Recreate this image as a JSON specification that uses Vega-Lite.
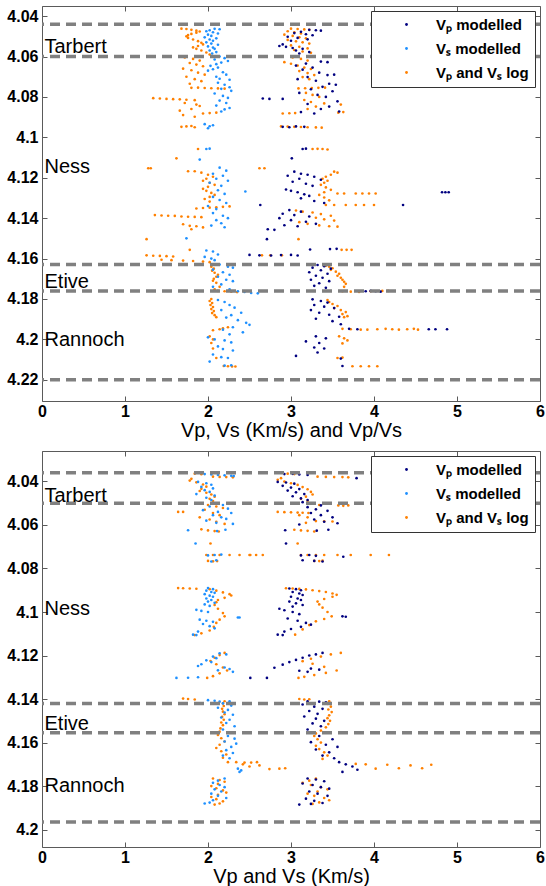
{
  "$schema": "https://vega.github.io/schema/vega-lite/v6.json",
  "background": "white",
  "padding": {"left": 6, "top": 5, "right": 0, "bottom": 0},
  "config": {
    "font": "Liberation Sans",
    "view": {"stroke": "#5a5a5a", "strokeWidth": 1},
    "axis": {"grid": false, "domain": false, "tickSize": -5, "tickColor": "#5a5a5a", "labelFont": "Liberation Sans", "labelFontSize": 16, "labelFontWeight": "bold", "labelColor": "black", "labelFlush": false, "labelOverlap": false, "titleFont": "Liberation Sans", "titleFontSize": 20, "titleFontWeight": "normal", "titleColor": "black"},
    "axisX": {"labelPadding": 7, "titlePadding": 1},
    "axisY": {"labelPadding": 9},
    "legend": {"orient": "top-right", "offset": 5, "title": null, "strokeColor": "#333333", "fillColor": "white", "padding": 6, "symbolType": "circle", "symbolSize": 8, "symbolOffset": 22, "labelOffset": 22, "labelFont": "Liberation Sans", "labelFontSize": 15, "labelFontWeight": "bold", "labelColor": "black", "rowPadding": 8}
  },
  "datasets": {
    "topLines": [{"d": 4.044}, {"d": 4.060}, {"d": 4.163}, {"d": 4.176}, {"d": 4.220}],
    "bottomLines": [{"d": 4.036}, {"d": 4.050}, {"d": 4.142}, {"d": 4.1555}, {"d": 4.1965}],
    "topNames": [{"name": "Tarbert", "d": 4.0555}, {"name": "Ness", "d": 4.1145}, {"name": "Etive", "d": 4.1718}, {"name": "Rannoch", "d": 4.2003}],
    "bottomNames": [{"name": "Tarbert", "d": 4.0466}, {"name": "Ness", "d": 4.0984}, {"name": "Etive", "d": 4.1514}, {"name": "Rannoch", "d": 4.1799}],
    "top": [
      {"s":"s","v":2.08,"d":4.0463},{"s":"s","v":2.14,"d":4.0465},{"s":"s","v":2.02,"d":4.047},{"s":"s","v":1.98,"d":4.0475},{"s":"s","v":2.06,"d":4.048},{"s":"s","v":2.12,"d":4.0486},{"s":"s","v":2.0,"d":4.0492},{"s":"s","v":2.04,"d":4.0498},{"s":"s","v":1.96,"d":4.0505},{"s":"s","v":2.1,"d":4.051},{"s":"s","v":2.02,"d":4.0516},{"s":"s","v":2.06,"d":4.0522},{"s":"s","v":1.98,"d":4.053},{"s":"s","v":2.04,"d":4.0536},{"s":"s","v":2.12,"d":4.0542},{"s":"s","v":2.0,"d":4.055},{"s":"s","v":2.06,"d":4.0556},{"s":"s","v":2.08,"d":4.0562},{"s":"s","v":2.02,"d":4.057},{"s":"s","v":2.1,"d":4.0578},{"s":"s","v":2.05,"d":4.0585},
      {"s":"s","v":2.14,"d":4.06},{"s":"s","v":2.2,"d":4.0608},{"s":"s","v":2.08,"d":4.0615},{"s":"s","v":2.24,"d":4.0622},{"s":"s","v":2.16,"d":4.063},{"s":"s","v":2.1,"d":4.0638},{"s":"s","v":2.03,"d":4.0646},{"s":"s","v":2.12,"d":4.0655},{"s":"s","v":2.06,"d":4.0663},{"s":"s","v":2.0,"d":4.067},{"s":"s","v":2.18,"d":4.0678},{"s":"s","v":2.22,"d":4.069},{"s":"s","v":2.1,"d":4.07},{"s":"s","v":2.14,"d":4.071},{"s":"s","v":2.26,"d":4.0715},
      {"s":"s","v":2.12,"d":4.073},{"s":"s","v":2.2,"d":4.074},{"s":"s","v":2.26,"d":4.0752},{"s":"s","v":2.16,"d":4.076},{"s":"s","v":2.28,"d":4.077},{"s":"s","v":2.08,"d":4.0783},{"s":"s","v":2.18,"d":4.0795},{"s":"s","v":2.24,"d":4.0805},{"s":"s","v":2.14,"d":4.0818},{"s":"s","v":2.22,"d":4.083},{"s":"s","v":2.1,"d":4.0843},{"s":"s","v":2.26,"d":4.0855},{"s":"s","v":2.2,"d":4.0862},{"s":"s","v":2.16,"d":4.0872},
      {"s":"s","v":1.96,"d":4.0935},{"s":"s","v":2.02,"d":4.0945},{"s":"s","v":2.06,"d":4.094},{"s":"s","v":2.0,"d":4.0955},{"s":"s","v":1.98,"d":4.1058},{"s":"s","v":2.02,"d":4.1056},{"s":"s","v":1.9,"d":4.111},
      {"s":"s","v":2.14,"d":4.115},{"s":"s","v":2.22,"d":4.1165},{"s":"s","v":2.06,"d":4.118},{"s":"s","v":2.18,"d":4.119},{"s":"s","v":2.1,"d":4.1205},{"s":"s","v":2.24,"d":4.1215},{"s":"s","v":2.02,"d":4.1225},{"s":"s","v":2.16,"d":4.124},{"s":"s","v":2.45,"d":4.1268},{"s":"s","v":2.12,"d":4.1262},{"s":"s","v":2.2,"d":4.128},{"s":"s","v":2.06,"d":4.1295},{"s":"s","v":2.14,"d":4.131},{"s":"s","v":2.22,"d":4.1325},
      {"s":"s","v":2.0,"d":4.134},{"s":"s","v":2.1,"d":4.1355},{"s":"s","v":2.06,"d":4.1375},{"s":"s","v":2.18,"d":4.1388},{"s":"s","v":2.24,"d":4.14},{"s":"s","v":2.1,"d":4.141},{"s":"s","v":2.16,"d":4.1425},{"s":"s","v":2.04,"d":4.1437},{"s":"s","v":2.2,"d":4.1445},{"s":"s","v":1.74,"d":4.15},
      {"s":"s","v":1.98,"d":4.156},{"s":"s","v":2.06,"d":4.1565},{"s":"s","v":2.12,"d":4.158},{"s":"s","v":1.96,"d":4.1592},{"s":"s","v":2.04,"d":4.16},{"s":"s","v":2.08,"d":4.1608},
      {"s":"s","v":2.14,"d":4.163},{"s":"s","v":2.24,"d":4.164},{"s":"s","v":2.3,"d":4.1645},{"s":"s","v":2.06,"d":4.1655},{"s":"s","v":2.18,"d":4.1668},{"s":"s","v":2.26,"d":4.168},{"s":"s","v":2.12,"d":4.169},{"s":"s","v":2.22,"d":4.1705},{"s":"s","v":2.3,"d":4.1712},{"s":"s","v":2.16,"d":4.1728},{"s":"s","v":2.06,"d":4.174},{"s":"s","v":2.26,"d":4.1752},
      {"s":"s","v":2.36,"d":4.1762},{"s":"s","v":2.44,"d":4.1765},{"s":"s","v":2.52,"d":4.177},{"s":"s","v":2.6,"d":4.1772},
      {"s":"s","v":2.12,"d":4.1805},{"s":"s","v":2.2,"d":4.1815},{"s":"s","v":2.26,"d":4.183},{"s":"s","v":2.32,"d":4.1843},{"s":"s","v":2.16,"d":4.1855},{"s":"s","v":2.4,"d":4.1868},{"s":"s","v":2.28,"d":4.188},{"s":"s","v":2.22,"d":4.1892},{"s":"s","v":2.36,"d":4.1905},{"s":"s","v":2.46,"d":4.1918},{"s":"s","v":2.5,"d":4.1928},{"s":"s","v":2.3,"d":4.194},{"s":"s","v":2.18,"d":4.1952},{"s":"s","v":2.42,"d":4.1965},{"s":"s","v":2.26,"d":4.1975},
      {"s":"s","v":2.0,"d":4.199},{"s":"s","v":2.08,"d":4.2},{"s":"s","v":2.2,"d":4.2005},{"s":"s","v":2.28,"d":4.2015},{"s":"s","v":2.12,"d":4.2035},{"s":"s","v":2.18,"d":4.2048},{"s":"s","v":2.3,"d":4.2055},{"s":"s","v":2.06,"d":4.2075},{"s":"s","v":2.16,"d":4.2088},{"s":"s","v":2.24,"d":4.2092},{"s":"s","v":2.02,"d":4.211},{"s":"s","v":2.2,"d":4.213},{"s":"s","v":2.28,"d":4.2128},

      {"s":"l","v":1.68,"d":4.0462},{"s":"l","v":1.74,"d":4.0464},{"s":"l","v":1.8,"d":4.0468},{"s":"l","v":1.86,"d":4.0472},{"s":"l","v":1.9,"d":4.0476},{"s":"l","v":1.86,"d":4.0482},{"s":"l","v":1.8,"d":4.0488},{"s":"l","v":1.76,"d":4.0494},{"s":"l","v":1.74,"d":4.05},{"s":"l","v":1.76,"d":4.0508},{"s":"l","v":1.82,"d":4.0516},{"s":"l","v":1.88,"d":4.0524},{"s":"l","v":1.92,"d":4.0532},{"s":"l","v":1.94,"d":4.054},{"s":"l","v":1.88,"d":4.0548},{"s":"l","v":1.82,"d":4.0555},{"s":"l","v":1.86,"d":4.0562},{"s":"l","v":1.92,"d":4.057},{"s":"l","v":1.98,"d":4.058},{"s":"l","v":2.02,"d":4.059},
      {"s":"l","v":1.72,"d":4.0605},{"s":"l","v":1.82,"d":4.0612},{"s":"l","v":1.9,"d":4.062},{"s":"l","v":1.78,"d":4.0632},{"s":"l","v":1.86,"d":4.064},{"s":"l","v":1.94,"d":4.0648},{"s":"l","v":1.7,"d":4.066},{"s":"l","v":1.8,"d":4.0668},{"s":"l","v":1.88,"d":4.068},{"s":"l","v":1.96,"d":4.069},{"s":"l","v":1.74,"d":4.07},{"s":"l","v":1.84,"d":4.0712},{"s":"l","v":1.92,"d":4.0722},{"s":"l","v":1.78,"d":4.0735},{"s":"l","v":1.8,"d":4.0755},{"s":"l","v":1.88,"d":4.0754},{"s":"l","v":1.96,"d":4.0756},{"s":"l","v":2.04,"d":4.0757},{"s":"l","v":2.12,"d":4.0758},{"s":"l","v":2.2,"d":4.0759},
      {"s":"l","v":1.34,"d":4.0806},{"s":"l","v":1.42,"d":4.0808},{"s":"l","v":1.5,"d":4.081},{"s":"l","v":1.58,"d":4.0811},{"s":"l","v":1.66,"d":4.0812},{"s":"l","v":1.74,"d":4.0814},{"s":"l","v":1.84,"d":4.0816},{"s":"l","v":1.72,"d":4.083},{"s":"l","v":1.86,"d":4.0838},{"s":"l","v":1.9,"d":4.0845},{"s":"l","v":1.8,"d":4.086},{"s":"l","v":1.66,"d":4.0868},{"s":"l","v":1.94,"d":4.0882},{"s":"l","v":2.02,"d":4.088},{"s":"l","v":2.1,"d":4.0878},{"s":"l","v":1.7,"d":4.089},{"s":"l","v":1.84,"d":4.0898},{"s":"l","v":1.68,"d":4.0948},{"s":"l","v":1.74,"d":4.0946},{"s":"l","v":1.8,"d":4.0944},{"s":"l","v":1.84,"d":4.095},
      {"s":"l","v":1.88,"d":4.1058},{"s":"l","v":1.62,"d":4.1104},{"s":"l","v":1.28,"d":4.1153},{"s":"l","v":1.31,"d":4.1153},{"s":"l","v":1.76,"d":4.1168},{"s":"l","v":1.84,"d":4.1168},
      {"s":"l","v":1.92,"d":4.1175},{"s":"l","v":2.0,"d":4.1185},{"s":"l","v":2.06,"d":4.1195},{"s":"l","v":1.98,"d":4.1205},{"s":"l","v":1.94,"d":4.1215},{"s":"l","v":2.02,"d":4.1225},{"s":"l","v":2.08,"d":4.1235},{"s":"l","v":2.0,"d":4.1245},{"s":"l","v":1.94,"d":4.1255},{"s":"l","v":1.98,"d":4.1265},{"s":"l","v":2.04,"d":4.1275},{"s":"l","v":2.08,"d":4.1285},{"s":"l","v":2.02,"d":4.1295},{"s":"l","v":1.96,"d":4.1305},{"s":"l","v":2.02,"d":4.1318},
      {"s":"l","v":1.86,"d":4.1352},{"s":"l","v":1.94,"d":4.135},{"s":"l","v":2.02,"d":4.1348},{"s":"l","v":2.1,"d":4.1346},{"s":"l","v":2.18,"d":4.1344},{"s":"l","v":2.26,"d":4.1342},
      {"s":"l","v":1.36,"d":4.1385},{"s":"l","v":1.44,"d":4.1387},{"s":"l","v":1.52,"d":4.1388},{"s":"l","v":1.6,"d":4.1389},{"s":"l","v":1.68,"d":4.1392},{"s":"l","v":1.76,"d":4.1393},{"s":"l","v":1.84,"d":4.1394},{"s":"l","v":1.92,"d":4.1395},
      {"s":"l","v":1.7,"d":4.143},{"s":"l","v":1.78,"d":4.1438},{"s":"l","v":1.86,"d":4.144},{"s":"l","v":1.94,"d":4.1446},{"s":"l","v":1.8,"d":4.1455},{"s":"l","v":1.26,"d":4.1504},{"s":"l","v":1.78,"d":4.1557},
      {"s":"l","v":1.26,"d":4.1584},{"s":"l","v":1.34,"d":4.1586},{"s":"l","v":1.42,"d":4.1587},{"s":"l","v":1.5,"d":4.1588},{"s":"l","v":1.58,"d":4.159},
      {"s":"l","v":1.44,"d":4.1606},{"s":"l","v":1.56,"d":4.1608},{"s":"l","v":1.7,"d":4.161},{"s":"l","v":1.82,"d":4.1612},{"s":"l","v":1.94,"d":4.1615},{"s":"l","v":2.02,"d":4.1618},
      {"s":"l","v":2.06,"d":4.163},{"s":"l","v":2.04,"d":4.164},{"s":"l","v":2.07,"d":4.165},{"s":"l","v":2.05,"d":4.166},{"s":"l","v":2.08,"d":4.167},{"s":"l","v":2.12,"d":4.168},{"s":"l","v":2.1,"d":4.169},{"s":"l","v":2.07,"d":4.17},{"s":"l","v":2.06,"d":4.171},{"s":"l","v":2.1,"d":4.172},{"s":"l","v":2.14,"d":4.174},{"s":"l","v":2.08,"d":4.1752},
      {"s":"l","v":2.12,"d":4.176},{"s":"l","v":2.2,"d":4.1762},{"s":"l","v":2.28,"d":4.1764},{"s":"l","v":2.35,"d":4.1766},
      {"s":"l","v":2.04,"d":4.18},{"s":"l","v":2.02,"d":4.181},{"s":"l","v":2.05,"d":4.182},{"s":"l","v":2.03,"d":4.183},{"s":"l","v":2.06,"d":4.184},{"s":"l","v":2.04,"d":4.185},{"s":"l","v":2.07,"d":4.186},{"s":"l","v":2.05,"d":4.187},{"s":"l","v":2.08,"d":4.188},{"s":"l","v":2.1,"d":4.189},{"s":"l","v":2.18,"d":4.1945},{"s":"l","v":2.24,"d":4.194},{"s":"l","v":2.14,"d":4.195},{"s":"l","v":2.06,"d":4.1955},
      {"s":"l","v":2.02,"d":4.1985},{"s":"l","v":2.06,"d":4.2},{"s":"l","v":2.04,"d":4.2018},{"s":"l","v":2.06,"d":4.2045},{"s":"l","v":2.1,"d":4.2092},{"s":"l","v":2.19,"d":4.2132},{"s":"l","v":2.24,"d":4.2133},{"s":"l","v":2.29,"d":4.2134},{"s":"l","v":2.33,"d":4.2134},

      {"s":"p","v":3.22,"d":4.0468},{"s":"p","v":3.3,"d":4.047},{"s":"p","v":3.36,"d":4.0472},{"s":"p","v":3.12,"d":4.0478},{"s":"p","v":3.04,"d":4.0484},{"s":"p","v":3.18,"d":4.049},{"s":"p","v":3.26,"d":4.0495},{"s":"p","v":2.96,"d":4.0502},{"s":"p","v":3.08,"d":4.0508},{"s":"p","v":3.2,"d":4.0515},{"s":"p","v":3.0,"d":4.0522},{"s":"p","v":2.9,"d":4.054},{"s":"p","v":2.86,"d":4.0548},{"s":"p","v":2.94,"d":4.0552},{"s":"p","v":3.02,"d":4.0558},{"s":"p","v":3.14,"d":4.0562},{"s":"p","v":3.06,"d":4.057},{"s":"p","v":3.22,"d":4.0578},{"s":"p","v":3.1,"d":4.0585},
      {"s":"p","v":3.36,"d":4.0625},{"s":"p","v":3.44,"d":4.0628},{"s":"p","v":3.18,"d":4.0635},{"s":"p","v":3.06,"d":4.0645},{"s":"p","v":3.26,"d":4.0655},{"s":"p","v":3.14,"d":4.0665},{"s":"p","v":3.34,"d":4.068},{"s":"p","v":3.44,"d":4.0692},{"s":"p","v":3.52,"d":4.069},{"s":"p","v":3.2,"d":4.0702},{"s":"p","v":3.08,"d":4.0712},{"s":"p","v":3.3,"d":4.072},
      {"s":"p","v":3.46,"d":4.0735},{"s":"p","v":3.54,"d":4.074},{"s":"p","v":3.38,"d":4.075},{"s":"p","v":3.24,"d":4.0762},{"s":"p","v":3.5,"d":4.0772},{"s":"p","v":3.1,"d":4.078},{"s":"p","v":3.32,"d":4.079},{"s":"p","v":3.42,"d":4.08},{"s":"p","v":2.66,"d":4.0808},{"s":"p","v":2.74,"d":4.081},{"s":"p","v":2.9,"d":4.081},{"s":"p","v":3.56,"d":4.0822},{"s":"p","v":3.2,"d":4.0835},{"s":"p","v":3.46,"d":4.0848},{"s":"p","v":3.36,"d":4.086},{"s":"p","v":3.58,"d":4.0872},{"s":"p","v":3.12,"d":4.0875},{"s":"p","v":3.28,"d":4.0882},
      {"s":"p","v":2.9,"d":4.0948},{"s":"p","v":2.98,"d":4.095},{"s":"p","v":3.06,"d":4.0946},{"s":"p","v":3.16,"d":4.0948},{"s":"p","v":3.14,"d":4.1058},{"s":"p","v":3.18,"d":4.1056},{"s":"p","v":3.01,"d":4.1104},
      {"s":"p","v":3.04,"d":4.117},{"s":"p","v":3.12,"d":4.118},{"s":"p","v":3.2,"d":4.1185},{"s":"p","v":2.96,"d":4.119},{"s":"p","v":3.28,"d":4.1195},{"s":"p","v":3.1,"d":4.1205},{"s":"p","v":3.36,"d":4.121},{"s":"p","v":3.02,"d":4.122},{"s":"p","v":3.18,"d":4.123},{"s":"p","v":3.26,"d":4.124},{"s":"p","v":2.94,"d":4.1258},{"s":"p","v":3.0,"d":4.1265},{"s":"p","v":3.08,"d":4.1272},{"s":"p","v":4.82,"d":4.1272},{"s":"p","v":4.86,"d":4.1272},{"s":"p","v":4.9,"d":4.1272},{"s":"p","v":3.16,"d":4.1282},{"s":"p","v":3.22,"d":4.129},{"s":"p","v":3.12,"d":4.1302},{"s":"p","v":3.28,"d":4.1315},{"s":"p","v":3.4,"d":4.1325},{"s":"p","v":2.63,"d":4.1335},{"s":"p","v":4.35,"d":4.1335},
      {"s":"p","v":2.98,"d":4.136},{"s":"p","v":3.12,"d":4.1368},{"s":"p","v":2.9,"d":4.1378},{"s":"p","v":3.04,"d":4.1385},{"s":"p","v":3.22,"d":4.1392},{"s":"p","v":2.86,"d":4.14},{"s":"p","v":3.0,"d":4.141},{"s":"p","v":3.18,"d":4.1418},{"s":"p","v":3.3,"d":4.1428},{"s":"p","v":2.92,"d":4.1435},{"s":"p","v":3.08,"d":4.144},{"s":"p","v":2.72,"d":4.1455},{"s":"p","v":2.8,"d":4.1458},{"s":"p","v":2.71,"d":4.1504},
      {"s":"p","v":3.23,"d":4.1555},{"s":"p","v":3.47,"d":4.1553},{"s":"p","v":3.55,"d":4.1552},{"s":"p","v":2.5,"d":4.1582},{"s":"p","v":2.62,"d":4.1584},{"s":"p","v":2.76,"d":4.1585},{"s":"p","v":2.88,"d":4.1583},{"s":"p","v":3.0,"d":4.1582},{"s":"p","v":3.08,"d":4.1585},
      {"s":"p","v":3.32,"d":4.1632},{"s":"p","v":3.4,"d":4.1638},{"s":"p","v":3.26,"d":4.1645},{"s":"p","v":3.48,"d":4.165},{"s":"p","v":3.36,"d":4.1658},{"s":"p","v":3.22,"d":4.1668},{"s":"p","v":3.44,"d":4.1675},{"s":"p","v":3.3,"d":4.1685},{"s":"p","v":3.38,"d":4.1695},{"s":"p","v":3.24,"d":4.1705},{"s":"p","v":3.46,"d":4.1712},{"s":"p","v":3.34,"d":4.1722},{"s":"p","v":3.28,"d":4.1735},{"s":"p","v":3.42,"d":4.1745},
      {"s":"p","v":3.9,"d":4.1762},{"s":"p","v":3.96,"d":4.176},{"s":"p","v":4.02,"d":4.1762},{"s":"p","v":4.08,"d":4.1764},
      {"s":"p","v":3.26,"d":4.1802},{"s":"p","v":3.36,"d":4.181},{"s":"p","v":3.44,"d":4.1818},{"s":"p","v":3.28,"d":4.183},{"s":"p","v":3.4,"d":4.1838},{"s":"p","v":3.52,"d":4.1845},{"s":"p","v":3.24,"d":4.1855},{"s":"p","v":3.34,"d":4.1868},{"s":"p","v":3.46,"d":4.1878},{"s":"p","v":3.58,"d":4.1888},{"s":"p","v":3.3,"d":4.1898},{"s":"p","v":3.5,"d":4.191},{"s":"p","v":3.6,"d":4.1925},{"s":"p","v":3.7,"d":4.1948},{"s":"p","v":3.8,"d":4.195},{"s":"p","v":4.66,"d":4.195},{"s":"p","v":4.74,"d":4.195},{"s":"p","v":4.88,"d":4.195},
      {"s":"p","v":3.3,"d":4.1985},{"s":"p","v":3.42,"d":4.1995},{"s":"p","v":3.18,"d":4.201},{"s":"p","v":3.34,"d":4.2018},{"s":"p","v":3.28,"d":4.204},{"s":"p","v":3.4,"d":4.2045},{"s":"p","v":3.32,"d":4.2065},{"s":"p","v":3.06,"d":4.2082},{"s":"p","v":3.6,"d":4.2095},{"s":"p","v":3.62,"d":4.2132},

      {"s":"l","v":3.0,"d":4.0462},{"s":"l","v":3.08,"d":4.0464},{"s":"l","v":3.16,"d":4.0466},{"s":"l","v":3.22,"d":4.0468},{"s":"l","v":2.96,"d":4.0475},{"s":"l","v":3.04,"d":4.048},{"s":"l","v":3.12,"d":4.0486},{"s":"l","v":2.92,"d":4.0492},{"s":"l","v":3.02,"d":4.0498},{"s":"l","v":3.1,"d":4.0505},{"s":"l","v":3.18,"d":4.051},{"s":"l","v":2.96,"d":4.0518},{"s":"l","v":3.06,"d":4.0525},{"s":"l","v":3.14,"d":4.053},{"s":"l","v":3.22,"d":4.0536},{"s":"l","v":3.0,"d":4.0545},{"s":"l","v":3.1,"d":4.0552},{"s":"l","v":3.2,"d":4.056},{"s":"l","v":3.04,"d":4.0568},{"s":"l","v":3.14,"d":4.0575},{"s":"l","v":3.24,"d":4.0582},
      {"s":"l","v":3.02,"d":4.0605},{"s":"l","v":3.12,"d":4.0612},{"s":"l","v":3.2,"d":4.062},{"s":"l","v":2.92,"d":4.0628},{"s":"l","v":3.0,"d":4.0636},{"s":"l","v":3.08,"d":4.0645},{"s":"l","v":3.16,"d":4.0655},{"s":"l","v":3.24,"d":4.0662},{"s":"l","v":3.1,"d":4.0672},{"s":"l","v":3.2,"d":4.0682},{"s":"l","v":3.28,"d":4.0692},{"s":"l","v":3.14,"d":4.0702},{"s":"l","v":3.22,"d":4.0712},
      {"s":"l","v":3.09,"d":4.0758},{"s":"l","v":3.17,"d":4.0757},{"s":"l","v":3.25,"d":4.0756},{"s":"l","v":3.33,"d":4.0755},{"s":"l","v":3.41,"d":4.0754},{"s":"l","v":3.18,"d":4.078},{"s":"l","v":3.26,"d":4.079},{"s":"l","v":3.34,"d":4.08},{"s":"l","v":3.16,"d":4.0815},{"s":"l","v":3.24,"d":4.0825},{"s":"l","v":3.4,"d":4.0832},{"s":"l","v":3.6,"d":4.0838},{"s":"l","v":3.3,"d":4.0848},{"s":"l","v":3.2,"d":4.086},
      {"s":"l","v":2.9,"d":4.0882},{"s":"l","v":2.98,"d":4.0881},{"s":"l","v":3.05,"d":4.088},{"s":"l","v":3.57,"d":4.0878},{"s":"l","v":3.63,"d":4.0875},{"s":"l","v":2.88,"d":4.0946},{"s":"l","v":2.96,"d":4.0947},{"s":"l","v":3.04,"d":4.0948},{"s":"l","v":3.12,"d":4.0949},{"s":"l","v":3.2,"d":4.095},{"s":"l","v":3.3,"d":4.0951},{"s":"l","v":3.37,"d":4.0952},
      {"s":"l","v":3.26,"d":4.1058},{"s":"l","v":3.32,"d":4.1057},{"s":"l","v":3.38,"d":4.1058},{"s":"l","v":3.44,"d":4.106},{"s":"l","v":2.62,"d":4.1153},{"s":"l","v":2.68,"d":4.1153},
      {"s":"l","v":3.52,"d":4.117},{"s":"l","v":3.56,"d":4.1175},{"s":"l","v":3.48,"d":4.1185},{"s":"l","v":3.42,"d":4.1195},{"s":"l","v":3.38,"d":4.1205},{"s":"l","v":3.44,"d":4.1215},{"s":"l","v":3.4,"d":4.1225},{"s":"l","v":3.36,"d":4.1235},{"s":"l","v":3.42,"d":4.1248},{"s":"l","v":3.48,"d":4.126},{"s":"l","v":3.4,"d":4.1272},{"s":"l","v":3.34,"d":4.1285},{"s":"l","v":3.4,"d":4.1298},{"s":"l","v":3.46,"d":4.1312},
      {"s":"l","v":3.56,"d":4.1278},{"s":"l","v":3.64,"d":4.1278},{"s":"l","v":3.78,"d":4.1278},{"s":"l","v":3.86,"d":4.1278},{"s":"l","v":3.94,"d":4.1278},{"s":"l","v":4.02,"d":4.1278},
      {"s":"l","v":3.42,"d":4.1335},{"s":"l","v":3.52,"d":4.1335},{"s":"l","v":3.66,"d":4.1335},{"s":"l","v":3.78,"d":4.1335},{"s":"l","v":3.88,"d":4.1335},{"s":"l","v":4.0,"d":4.1335},
      {"s":"l","v":3.06,"d":4.1362},{"s":"l","v":3.14,"d":4.1368},{"s":"l","v":3.26,"d":4.1372},{"s":"l","v":3.36,"d":4.138},{"s":"l","v":3.48,"d":4.1388},{"s":"l","v":3.3,"d":4.1398},{"s":"l","v":3.4,"d":4.1406},{"s":"l","v":3.52,"d":4.1412},{"s":"l","v":3.1,"d":4.142},{"s":"l","v":3.2,"d":4.1428},{"s":"l","v":3.34,"d":4.1436},{"s":"l","v":3.46,"d":4.144},{"s":"l","v":3.56,"d":4.1442},
      {"s":"l","v":3.09,"d":4.1504},{"s":"l","v":3.61,"d":4.1557},{"s":"l","v":3.67,"d":4.1557},{"s":"l","v":3.73,"d":4.1557},{"s":"l","v":2.65,"d":4.1584},{"s":"l","v":2.75,"d":4.1584},{"s":"l","v":2.89,"d":4.1584},
      {"s":"l","v":3.42,"d":4.1635},{"s":"l","v":3.46,"d":4.164},{"s":"l","v":3.5,"d":4.1648},{"s":"l","v":3.48,"d":4.1656},{"s":"l","v":3.54,"d":4.1665},{"s":"l","v":3.58,"d":4.1675},{"s":"l","v":3.56,"d":4.1685},{"s":"l","v":3.6,"d":4.1695},{"s":"l","v":3.62,"d":4.1705},{"s":"l","v":3.64,"d":4.1715},{"s":"l","v":3.66,"d":4.1725},{"s":"l","v":3.64,"d":4.174},
      {"s":"l","v":3.62,"d":4.1762},{"s":"l","v":3.72,"d":4.1764},{"s":"l","v":3.82,"d":4.1765},{"s":"l","v":3.96,"d":4.1762},{"s":"l","v":4.1,"d":4.176},{"s":"l","v":4.17,"d":4.176},
      {"s":"l","v":3.44,"d":4.1805},{"s":"l","v":3.46,"d":4.1815},{"s":"l","v":3.5,"d":4.1825},{"s":"l","v":3.56,"d":4.1835},{"s":"l","v":3.52,"d":4.1845},{"s":"l","v":3.6,"d":4.1855},{"s":"l","v":3.66,"d":4.1865},{"s":"l","v":3.62,"d":4.1875},{"s":"l","v":3.68,"d":4.1885},{"s":"l","v":3.64,"d":4.189},
      {"s":"l","v":3.62,"d":4.1948},{"s":"l","v":3.72,"d":4.195},{"s":"l","v":3.84,"d":4.1952},{"s":"l","v":3.92,"d":4.1952},{"s":"l","v":4.04,"d":4.195},{"s":"l","v":4.14,"d":4.1948},{"s":"l","v":4.22,"d":4.195},{"s":"l","v":4.3,"d":4.1952},{"s":"l","v":4.4,"d":4.195},{"s":"l","v":4.48,"d":4.1948},{"s":"l","v":4.53,"d":4.1952},
      {"s":"l","v":3.58,"d":4.1985},{"s":"l","v":3.64,"d":4.1995},{"s":"l","v":3.68,"d":4.2005},{"s":"l","v":3.62,"d":4.202},{"s":"l","v":3.56,"d":4.2092},{"s":"l","v":3.62,"d":4.209},{"s":"l","v":3.74,"d":4.2133},{"s":"l","v":3.84,"d":4.2133},{"s":"l","v":3.94,"d":4.2133},{"s":"l","v":4.04,"d":4.2133}
    ],
    "bottom": [
      {"s":"s","v":1.96,"d":4.0366},{"s":"s","v":2.04,"d":4.0368},{"s":"s","v":2.12,"d":4.037},{"s":"s","v":2.2,"d":4.0372},{"s":"s","v":2.28,"d":4.0374},{"s":"s","v":2.31,"d":4.0375},
      {"s":"s","v":1.88,"d":4.0402},{"s":"s","v":1.98,"d":4.0408},{"s":"s","v":2.04,"d":4.0415},{"s":"s","v":1.92,"d":4.0425},{"s":"s","v":2.06,"d":4.0432},{"s":"s","v":1.96,"d":4.044},{"s":"s","v":2.02,"d":4.0448},{"s":"s","v":1.86,"d":4.0458},{"s":"s","v":2.08,"d":4.0465},{"s":"s","v":1.98,"d":4.0475},{"s":"s","v":2.04,"d":4.0485},
      {"s":"s","v":2.1,"d":4.05},{"s":"s","v":2.18,"d":4.0508},{"s":"s","v":2.02,"d":4.0515},{"s":"s","v":2.24,"d":4.0525},{"s":"s","v":1.94,"d":4.0532},{"s":"s","v":2.12,"d":4.054},{"s":"s","v":2.28,"d":4.0545},{"s":"s","v":2.06,"d":4.0555},{"s":"s","v":2.16,"d":4.0565},{"s":"s","v":2.22,"d":4.0572},{"s":"s","v":1.98,"d":4.058},{"s":"s","v":2.1,"d":4.059},{"s":"s","v":2.3,"d":4.0595},
      {"s":"s","v":1.76,"d":4.0624},{"s":"s","v":2.11,"d":4.0628},{"s":"s","v":2.21,"d":4.0622},{"s":"s","v":1.85,"d":4.0685},{"s":"s","v":2.0,"d":4.074},{"s":"s","v":2.08,"d":4.0738},{"s":"s","v":2.16,"d":4.0736},{"s":"s","v":2.1,"d":4.0762},{"s":"s","v":2.04,"d":4.0768},
      {"s":"s","v":2.0,"d":4.089},{"s":"s","v":2.06,"d":4.0895},{"s":"s","v":1.98,"d":4.0902},{"s":"s","v":2.04,"d":4.0908},{"s":"s","v":2.08,"d":4.0912},{"s":"s","v":1.96,"d":4.0918},{"s":"s","v":2.02,"d":4.0925},{"s":"s","v":2.06,"d":4.093},{"s":"s","v":1.98,"d":4.0938},{"s":"s","v":2.04,"d":4.0945},{"s":"s","v":2.0,"d":4.0952},{"s":"s","v":2.08,"d":4.0958},{"s":"s","v":1.96,"d":4.0965},{"s":"s","v":2.02,"d":4.0972},
      {"s":"s","v":1.86,"d":4.099},{"s":"s","v":1.92,"d":4.0995},{"s":"s","v":2.0,"d":4.1},{"s":"s","v":2.36,"d":4.1025},{"s":"s","v":2.38,"d":4.1025},{"s":"s","v":1.9,"d":4.1035},{"s":"s","v":1.98,"d":4.104},{"s":"s","v":2.06,"d":4.1045},{"s":"s","v":1.94,"d":4.1055},{"s":"s","v":2.02,"d":4.1065},{"s":"s","v":2.08,"d":4.1075},{"s":"s","v":1.88,"d":4.109},{"s":"s","v":1.82,"d":4.1104},{"s":"s","v":1.86,"d":4.1106},
      {"s":"s","v":2.14,"d":4.119},{"s":"s","v":2.22,"d":4.1195},{"s":"s","v":2.06,"d":4.1205},{"s":"s","v":2.1,"d":4.1212},{"s":"s","v":1.98,"d":4.1222},{"s":"s","v":2.04,"d":4.123},{"s":"s","v":1.92,"d":4.124},{"s":"s","v":1.88,"d":4.1248},{"s":"s","v":2.2,"d":4.1255},{"s":"s","v":2.26,"d":4.1262},{"s":"s","v":2.12,"d":4.1268},{"s":"s","v":2.3,"d":4.1275},{"s":"s","v":1.62,"d":4.1303},{"s":"s","v":1.76,"d":4.1302},{"s":"s","v":1.88,"d":4.13},
      {"s":"s","v":2.0,"d":4.1405},{"s":"s","v":2.08,"d":4.1408},{"s":"s","v":2.14,"d":4.1412},{"s":"s","v":2.26,"d":4.141},{"s":"s","v":2.18,"d":4.142},{"s":"s","v":2.28,"d":4.143},{"s":"s","v":2.12,"d":4.144},{"s":"s","v":2.24,"d":4.145},{"s":"s","v":2.2,"d":4.1462},{"s":"s","v":2.3,"d":4.1472},{"s":"s","v":2.16,"d":4.1485},{"s":"s","v":2.26,"d":4.1495},{"s":"s","v":2.22,"d":4.151},{"s":"s","v":2.32,"d":4.1525},{"s":"s","v":2.18,"d":4.154},{"s":"s","v":2.28,"d":4.1555},
      {"s":"s","v":2.24,"d":4.157},{"s":"s","v":2.32,"d":4.1582},{"s":"s","v":2.2,"d":4.1595},{"s":"s","v":2.34,"d":4.1605},{"s":"s","v":2.28,"d":4.162},{"s":"s","v":2.22,"d":4.1635},{"s":"s","v":2.3,"d":4.1648},{"s":"s","v":2.18,"d":4.166},{"s":"s","v":2.26,"d":4.1672},{"s":"s","v":2.36,"d":4.172},{"s":"s","v":2.4,"d":4.1728},{"s":"s","v":2.38,"d":4.1735},
      {"s":"s","v":2.2,"d":4.1765},{"s":"s","v":2.12,"d":4.1775},{"s":"s","v":2.06,"d":4.1785},{"s":"s","v":2.14,"d":4.1795},{"s":"s","v":2.2,"d":4.1805},{"s":"s","v":2.08,"d":4.1815},{"s":"s","v":2.16,"d":4.1825},{"s":"s","v":2.04,"d":4.1835},{"s":"s","v":2.12,"d":4.1845},{"s":"s","v":2.22,"d":4.1855},{"s":"s","v":2.06,"d":4.1865},{"s":"s","v":1.96,"d":4.188},{"s":"s","v":2.02,"d":4.1876},

      {"s":"l","v":1.84,"d":4.0364},{"s":"l","v":1.92,"d":4.0367},{"s":"l","v":1.8,"d":4.0388},{"s":"l","v":1.78,"d":4.0396},{"s":"l","v":1.86,"d":4.0404},{"s":"l","v":1.94,"d":4.0414},{"s":"l","v":1.98,"d":4.0424},{"s":"l","v":1.92,"d":4.0434},{"s":"l","v":1.9,"d":4.0444},{"s":"l","v":1.98,"d":4.0452},{"s":"l","v":2.04,"d":4.046},{"s":"l","v":2.08,"d":4.047},{"s":"l","v":2.02,"d":4.048},{"s":"l","v":2.06,"d":4.049},
      {"s":"l","v":2.06,"d":4.0378},{"s":"l","v":2.14,"d":4.0379},{"s":"l","v":2.22,"d":4.038},{"s":"l","v":2.3,"d":4.0381},
      {"s":"l","v":1.92,"d":4.05},{"s":"l","v":2.0,"d":4.0508},{"s":"l","v":2.1,"d":4.0515},{"s":"l","v":2.18,"d":4.0522},{"s":"l","v":1.96,"d":4.053},{"s":"l","v":2.06,"d":4.0545},{"s":"l","v":2.14,"d":4.0555},{"s":"l","v":1.9,"d":4.0565},{"s":"l","v":2.02,"d":4.0575},{"s":"l","v":2.1,"d":4.0585},{"s":"l","v":2.2,"d":4.0595},{"s":"l","v":1.64,"d":4.054},{"s":"l","v":1.7,"d":4.054},
      {"s":"l","v":1.92,"d":4.062},{"s":"l","v":2.0,"d":4.0625},{"s":"l","v":2.08,"d":4.0628},{"s":"l","v":2.13,"d":4.063},{"s":"l","v":2.03,"d":4.0685},
      {"s":"l","v":1.98,"d":4.0738},{"s":"l","v":2.06,"d":4.0738},{"s":"l","v":2.14,"d":4.0738},{"s":"l","v":2.26,"d":4.0738},{"s":"l","v":2.38,"d":4.0738},{"s":"l","v":2.51,"d":4.0738},{"s":"l","v":2.0,"d":4.0765},{"s":"l","v":2.06,"d":4.0767},{"s":"l","v":2.11,"d":4.0766},
      {"s":"l","v":1.64,"d":4.089},{"s":"l","v":1.7,"d":4.0891},{"s":"l","v":1.78,"d":4.0892},{"s":"l","v":1.86,"d":4.0893},
      {"s":"l","v":2.02,"d":4.0895},{"s":"l","v":2.1,"d":4.0902},{"s":"l","v":2.18,"d":4.091},{"s":"l","v":2.26,"d":4.0918},{"s":"l","v":2.28,"d":4.0924},{"s":"l","v":2.2,"d":4.0935},{"s":"l","v":2.12,"d":4.0945},{"s":"l","v":2.1,"d":4.0955},{"s":"l","v":2.08,"d":4.0968},{"s":"l","v":2.12,"d":4.0985},{"s":"l","v":2.18,"d":4.1005},{"s":"l","v":2.2,"d":4.102},{"s":"l","v":2.14,"d":4.1035},{"s":"l","v":2.1,"d":4.105},{"s":"l","v":2.07,"d":4.1068},{"s":"l","v":2.02,"d":4.1085},{"s":"l","v":1.92,"d":4.1098},{"s":"l","v":1.84,"d":4.1106},
      {"s":"l","v":2.2,"d":4.1188},{"s":"l","v":2.14,"d":4.1198},{"s":"l","v":2.08,"d":4.121},{"s":"l","v":2.03,"d":4.1225},{"s":"l","v":2.1,"d":4.124},{"s":"l","v":2.18,"d":4.1255},{"s":"l","v":2.23,"d":4.1269},{"s":"l","v":2.14,"d":4.1282},{"s":"l","v":2.06,"d":4.1295},{"s":"l","v":1.99,"d":4.1303},
      {"s":"l","v":1.7,"d":4.1398},{"s":"l","v":1.76,"d":4.14},{"s":"l","v":1.84,"d":4.1402},
      {"s":"l","v":2.2,"d":4.141},{"s":"l","v":2.18,"d":4.142},{"s":"l","v":2.19,"d":4.1432},{"s":"l","v":2.17,"d":4.1445},{"s":"l","v":2.18,"d":4.1458},{"s":"l","v":2.2,"d":4.147},{"s":"l","v":2.17,"d":4.1482},{"s":"l","v":2.19,"d":4.1495},{"s":"l","v":2.16,"d":4.1508},{"s":"l","v":2.18,"d":4.152},{"s":"l","v":2.15,"d":4.1535},{"s":"l","v":2.14,"d":4.155},
      {"s":"l","v":2.12,"d":4.1565},{"s":"l","v":2.16,"d":4.158},{"s":"l","v":2.2,"d":4.1595},{"s":"l","v":2.14,"d":4.161},{"s":"l","v":2.1,"d":4.1625},{"s":"l","v":2.16,"d":4.164},{"s":"l","v":2.22,"d":4.1655},{"s":"l","v":2.18,"d":4.167},
      {"s":"l","v":2.24,"d":4.169},{"s":"l","v":2.34,"d":4.169},{"s":"l","v":2.44,"d":4.1692},{"s":"l","v":2.52,"d":4.1692},{"s":"l","v":2.59,"d":4.169},
      {"s":"l","v":2.06,"d":4.1765},{"s":"l","v":2.14,"d":4.1772},{"s":"l","v":2.2,"d":4.178},{"s":"l","v":2.12,"d":4.179},{"s":"l","v":2.04,"d":4.18},{"s":"l","v":2.1,"d":4.181},{"s":"l","v":2.18,"d":4.182},{"s":"l","v":2.22,"d":4.183},{"s":"l","v":2.12,"d":4.184},{"s":"l","v":2.04,"d":4.185},{"s":"l","v":2.1,"d":4.186},{"s":"l","v":2.18,"d":4.187},{"s":"l","v":2.14,"d":4.188},{"s":"l","v":2.08,"d":4.1885},

      {"s":"p","v":2.92,"d":4.0366},{"s":"p","v":3.02,"d":4.0365},{"s":"p","v":3.1,"d":4.0368},{"s":"p","v":3.2,"d":4.037},{"s":"p","v":3.79,"d":4.0385},
      {"s":"p","v":2.84,"d":4.0402},{"s":"p","v":2.94,"d":4.0405},{"s":"p","v":3.04,"d":4.041},{"s":"p","v":2.9,"d":4.042},{"s":"p","v":3.0,"d":4.0428},{"s":"p","v":3.1,"d":4.0435},{"s":"p","v":2.96,"d":4.0442},{"s":"p","v":3.06,"d":4.045},{"s":"p","v":3.16,"d":4.0458},{"s":"p","v":3.02,"d":4.0468},{"s":"p","v":3.12,"d":4.0478},{"s":"p","v":3.2,"d":4.0485},
      {"s":"p","v":3.14,"d":4.0495},{"s":"p","v":3.26,"d":4.0502},{"s":"p","v":3.36,"d":4.051},{"s":"p","v":3.2,"d":4.0518},{"s":"p","v":3.3,"d":4.0528},{"s":"p","v":3.44,"d":4.0535},{"s":"p","v":3.24,"d":4.0545},{"s":"p","v":3.36,"d":4.0555},{"s":"p","v":3.5,"d":4.0565},{"s":"p","v":3.28,"d":4.0575},{"s":"p","v":3.4,"d":4.0585},{"s":"p","v":3.56,"d":4.0592},{"s":"p","v":3.1,"d":4.0598},
      {"s":"p","v":2.93,"d":4.0624},{"s":"p","v":3.31,"d":4.0626},{"s":"p","v":3.45,"d":4.0622},{"s":"p","v":2.94,"d":4.0685},
      {"s":"p","v":3.12,"d":4.074},{"s":"p","v":3.22,"d":4.0738},{"s":"p","v":3.3,"d":4.0742},{"s":"p","v":3.63,"d":4.0746},{"s":"p","v":3.14,"d":4.0762},{"s":"p","v":3.28,"d":4.0765},{"s":"p","v":3.38,"d":4.0768},
      {"s":"p","v":2.98,"d":4.0892},{"s":"p","v":3.06,"d":4.0895},{"s":"p","v":3.12,"d":4.09},{"s":"p","v":3.02,"d":4.0908},{"s":"p","v":3.1,"d":4.0915},{"s":"p","v":3.14,"d":4.0922},{"s":"p","v":3.0,"d":4.093},{"s":"p","v":3.08,"d":4.0938},{"s":"p","v":3.12,"d":4.0945},{"s":"p","v":2.98,"d":4.0952},{"s":"p","v":3.06,"d":4.096},{"s":"p","v":3.14,"d":4.0968},{"s":"p","v":3.02,"d":4.0975},
      {"s":"p","v":2.86,"d":4.0985},{"s":"p","v":2.92,"d":4.0992},{"s":"p","v":3.02,"d":4.1},{"s":"p","v":3.1,"d":4.101},{"s":"p","v":3.62,"d":4.102},{"s":"p","v":3.66,"d":4.1022},{"s":"p","v":2.96,"d":4.103},{"s":"p","v":3.08,"d":4.104},{"s":"p","v":3.18,"d":4.105},{"s":"p","v":3.24,"d":4.1058},{"s":"p","v":3.12,"d":4.1068},{"s":"p","v":3.0,"d":4.1078},{"s":"p","v":2.92,"d":4.109},{"s":"p","v":2.84,"d":4.1104},{"s":"p","v":2.9,"d":4.1106},
      {"s":"p","v":3.38,"d":4.1188},{"s":"p","v":3.3,"d":4.1195},{"s":"p","v":3.22,"d":4.12},{"s":"p","v":3.14,"d":4.121},{"s":"p","v":3.06,"d":4.122},{"s":"p","v":2.98,"d":4.123},{"s":"p","v":2.9,"d":4.1242},{"s":"p","v":2.8,"d":4.1256},{"s":"p","v":3.24,"d":4.126},{"s":"p","v":3.34,"d":4.1265},{"s":"p","v":3.1,"d":4.127},{"s":"p","v":3.2,"d":4.1275},{"s":"p","v":2.51,"d":4.1303},{"s":"p","v":2.71,"d":4.1303},
      {"s":"p","v":3.2,"d":4.141},{"s":"p","v":3.34,"d":4.1412},{"s":"p","v":3.42,"d":4.1415},{"s":"p","v":3.14,"d":4.1425},{"s":"p","v":3.28,"d":4.1435},{"s":"p","v":3.38,"d":4.1445},{"s":"p","v":3.22,"d":4.1455},{"s":"p","v":3.32,"d":4.1468},{"s":"p","v":3.16,"d":4.148},{"s":"p","v":3.3,"d":4.149},{"s":"p","v":3.4,"d":4.15},{"s":"p","v":3.26,"d":4.1512},{"s":"p","v":3.36,"d":4.1525},{"s":"p","v":3.2,"d":4.154},{"s":"p","v":3.46,"d":4.1555},{"s":"p","v":3.34,"d":4.157},{"s":"p","v":3.5,"d":4.1585},{"s":"p","v":3.24,"d":4.1598},{"s":"p","v":3.42,"d":4.161},{"s":"p","v":3.56,"d":4.162},{"s":"p","v":3.3,"d":4.1632},{"s":"p","v":3.46,"d":4.1645},{"s":"p","v":3.38,"d":4.166},{"s":"p","v":3.52,"d":4.1672},
      {"s":"p","v":3.58,"d":4.169},{"s":"p","v":3.66,"d":4.17},{"s":"p","v":3.74,"d":4.171},{"s":"p","v":3.8,"d":4.1725},{"s":"p","v":3.62,"d":4.1735},
      {"s":"p","v":3.2,"d":4.1765},{"s":"p","v":3.3,"d":4.177},{"s":"p","v":3.4,"d":4.1778},{"s":"p","v":3.14,"d":4.1788},{"s":"p","v":3.26,"d":4.1795},{"s":"p","v":3.36,"d":4.1805},{"s":"p","v":3.46,"d":4.1812},{"s":"p","v":3.22,"d":4.1825},{"s":"p","v":3.32,"d":4.1835},{"s":"p","v":3.44,"d":4.1845},{"s":"p","v":3.18,"d":4.1858},{"s":"p","v":3.28,"d":4.1868},{"s":"p","v":3.38,"d":4.1878},{"s":"p","v":3.1,"d":4.1885},{"s":"p","v":3.24,"d":4.1882},

      {"s":"l","v":2.96,"d":4.0364},{"s":"l","v":3.04,"d":4.0366},{"s":"l","v":2.88,"d":4.0385},{"s":"l","v":2.84,"d":4.0392},{"s":"l","v":2.92,"d":4.04},{"s":"l","v":3.0,"d":4.0408},{"s":"l","v":3.08,"d":4.0416},{"s":"l","v":3.14,"d":4.0426},{"s":"l","v":3.2,"d":4.0436},{"s":"l","v":3.24,"d":4.0448},{"s":"l","v":3.26,"d":4.046},{"s":"l","v":3.18,"d":4.047},{"s":"l","v":3.12,"d":4.048},{"s":"l","v":3.2,"d":4.049},
      {"s":"l","v":3.32,"d":4.0378},{"s":"l","v":3.42,"d":4.0379},{"s":"l","v":3.52,"d":4.038},{"s":"l","v":3.62,"d":4.038},{"s":"l","v":3.69,"d":4.0381},
      {"s":"l","v":3.28,"d":4.05},{"s":"l","v":3.34,"d":4.0508},{"s":"l","v":3.57,"d":4.051},{"s":"l","v":3.63,"d":4.0512},{"s":"l","v":3.69,"d":4.051},{"s":"l","v":2.84,"d":4.054},{"s":"l","v":2.92,"d":4.0541},{"s":"l","v":3.0,"d":4.0542},{"s":"l","v":3.08,"d":4.0543},{"s":"l","v":3.14,"d":4.0544},{"s":"l","v":3.21,"d":4.0545},{"s":"l","v":3.1,"d":4.0555},{"s":"l","v":3.2,"d":4.0565},{"s":"l","v":3.3,"d":4.0582},{"s":"l","v":3.4,"d":4.0583},{"s":"l","v":3.5,"d":4.0584},{"s":"l","v":3.18,"d":4.059},
      {"s":"l","v":3.04,"d":4.0622},{"s":"l","v":3.12,"d":4.0625},{"s":"l","v":3.2,"d":4.0627},{"s":"l","v":3.28,"d":4.063},{"s":"l","v":3.08,"d":4.0685},
      {"s":"l","v":2.5,"d":4.0738},{"s":"l","v":2.58,"d":4.0738},{"s":"l","v":2.66,"d":4.0738},{"s":"l","v":3.12,"d":4.0738},{"s":"l","v":3.2,"d":4.0738},{"s":"l","v":3.3,"d":4.0738},{"s":"l","v":3.4,"d":4.0738},{"s":"l","v":3.56,"d":4.0738},{"s":"l","v":3.72,"d":4.0738},{"s":"l","v":3.96,"d":4.0738},{"s":"l","v":4.18,"d":4.0738},
      {"s":"l","v":3.28,"d":4.0765},{"s":"l","v":3.34,"d":4.0766},{"s":"l","v":3.38,"d":4.0764},
      {"s":"l","v":2.94,"d":4.0891},{"s":"l","v":3.02,"d":4.0892},{"s":"l","v":3.1,"d":4.0894},{"s":"l","v":3.18,"d":4.0896},{"s":"l","v":3.26,"d":4.09},{"s":"l","v":3.34,"d":4.0904},{"s":"l","v":3.42,"d":4.0908},{"s":"l","v":3.5,"d":4.0915},{"s":"l","v":3.55,"d":4.0921},
      {"s":"l","v":3.5,"d":4.093},{"s":"l","v":3.4,"d":4.094},{"s":"l","v":3.32,"d":4.0952},{"s":"l","v":3.34,"d":4.0965},{"s":"l","v":3.38,"d":4.098},{"s":"l","v":3.44,"d":4.1},{"s":"l","v":3.49,"d":4.102},{"s":"l","v":3.4,"d":4.1032},{"s":"l","v":3.3,"d":4.1043},{"s":"l","v":3.22,"d":4.106},{"s":"l","v":3.14,"d":4.108},{"s":"l","v":3.05,"d":4.1104},
      {"s":"l","v":3.6,"d":4.1188},{"s":"l","v":3.48,"d":4.1195},{"s":"l","v":3.36,"d":4.1205},{"s":"l","v":3.24,"d":4.1215},{"s":"l","v":3.14,"d":4.1226},{"s":"l","v":3.26,"d":4.1238},{"s":"l","v":3.4,"d":4.1252},{"s":"l","v":3.55,"d":4.1269},{"s":"l","v":3.42,"d":4.128},{"s":"l","v":3.28,"d":4.129},{"s":"l","v":3.16,"d":4.1298},{"s":"l","v":3.09,"d":4.1303},
      {"s":"l","v":3.1,"d":4.14},{"s":"l","v":3.16,"d":4.1402},{"s":"l","v":3.22,"d":4.1401},
      {"s":"l","v":3.46,"d":4.141},{"s":"l","v":3.44,"d":4.1422},{"s":"l","v":3.48,"d":4.1435},{"s":"l","v":3.45,"d":4.1448},{"s":"l","v":3.49,"d":4.146},{"s":"l","v":3.46,"d":4.1475},{"s":"l","v":3.44,"d":4.1488},{"s":"l","v":3.47,"d":4.15},{"s":"l","v":3.45,"d":4.1515},{"s":"l","v":3.42,"d":4.153},{"s":"l","v":3.36,"d":4.1545},{"s":"l","v":3.3,"d":4.1558},
      {"s":"l","v":3.28,"d":4.157},{"s":"l","v":3.32,"d":4.1585},{"s":"l","v":3.36,"d":4.16},{"s":"l","v":3.3,"d":4.1615},{"s":"l","v":3.34,"d":4.163},{"s":"l","v":3.4,"d":4.1645},{"s":"l","v":3.44,"d":4.166},{"s":"l","v":3.38,"d":4.1675},
      {"s":"l","v":2.42,"d":4.17},{"s":"l","v":2.5,"d":4.171},{"s":"l","v":2.62,"d":4.1705},{"s":"l","v":2.74,"d":4.1722},{"s":"l","v":2.86,"d":4.172},{"s":"l","v":2.93,"d":4.1718},{"s":"l","v":3.78,"d":4.1698},{"s":"l","v":3.9,"d":4.17},{"s":"l","v":4.02,"d":4.172},{"s":"l","v":4.16,"d":4.1702},{"s":"l","v":4.3,"d":4.1718},{"s":"l","v":4.44,"d":4.1705},{"s":"l","v":4.58,"d":4.1718},{"s":"l","v":4.69,"d":4.1702},
      {"s":"l","v":3.3,"d":4.1765},{"s":"l","v":3.22,"d":4.1775},{"s":"l","v":3.14,"d":4.1785},{"s":"l","v":3.24,"d":4.1795},{"s":"l","v":3.36,"d":4.1805},{"s":"l","v":3.44,"d":4.1815},{"s":"l","v":3.32,"d":4.1825},{"s":"l","v":3.2,"d":4.1835},{"s":"l","v":3.28,"d":4.1845},{"s":"l","v":3.4,"d":4.1855},{"s":"l","v":3.46,"d":4.1865},{"s":"l","v":3.34,"d":4.1875},{"s":"l","v":3.26,"d":4.1882}
    ]
  },
  "vconcat": [
    {
      "width": 498,
      "height": 395,
      "resolve": {"scale": {"x": "independent", "y": "independent"}},
      "layer": [
        {
          "layer": [
            {
              "data": {"name": "top"},
              "mark": {"type": "circle", "size": 7, "opacity": 1},
              "encoding": {
                "x": {"field": "v", "type": "quantitative", "scale": {"domain": [0, 6], "nice": false, "zero": false}, "axis": {"values": [0, 1, 2, 3, 4, 5, 6], "format": "d", "title": "Vp, Vs (Km/s) and Vp/Vs"}},
                "y": {"field": "d", "type": "quantitative", "scale": {"domain": [4.035, 4.2305], "reverse": true, "nice": false, "zero": false}, "axis": {"values": [4.04, 4.06, 4.08, 4.1, 4.12, 4.14, 4.16, 4.18, 4.2, 4.22], "format": ".2~f", "title": null}},
                "color": {"field": "s", "type": "nominal", "scale": {"domain": ["p", "s", "l"], "range": ["#000080", "#1e90ff", "#ff8000"]}, "legend": {"labelExpr": "datum.label == 'p' ? 'Vₚ modelled' : datum.label == 's' ? 'Vₛ modelled' : 'Vₚ and Vₛ log'"}},
                "order": {"field": "s", "type": "nominal"}
              }
            },
            {
              "data": {"name": "topLines"},
              "mark": {"type": "rule", "color": "#808080", "strokeWidth": 3.5, "strokeDash": [10, 6]},
              "encoding": {"y": {"field": "d", "type": "quantitative"}}
            },
            {
              "data": {"name": "topNames"},
              "mark": {"type": "text", "align": "left", "baseline": "middle", "font": "Liberation Sans", "fontSize": 20, "color": "black"},
              "encoding": {"x": {"datum": 0.03}, "y": {"field": "d", "type": "quantitative"}, "text": {"field": "name"}}
            }
          ]
        },
        {
          "data": {"name": "topLines"},
          "mark": {"type": "point", "opacity": 0},
          "encoding": {
            "x": {"datum": 0, "type": "quantitative", "scale": {"domain": [0, 6], "nice": false, "zero": false}, "axis": {"orient": "top", "labels": false, "title": null, "values": [0, 1, 2, 3, 4, 5, 6]}},
            "y": {"field": "d", "type": "quantitative", "scale": {"domain": [4.035, 4.2305], "reverse": true, "nice": false, "zero": false}, "axis": {"orient": "right", "labels": false, "title": null, "values": [4.04, 4.06, 4.08, 4.1, 4.12, 4.14, 4.16, 4.18, 4.2, 4.22]}}
          }
        }
      ]
    },
    {
      "width": 498,
      "height": 396,
      "resolve": {"scale": {"x": "independent", "y": "independent"}},
      "layer": [
        {
          "layer": [
            {
              "data": {"name": "bottom"},
              "mark": {"type": "circle", "size": 7, "opacity": 1},
              "encoding": {
                "x": {"field": "v", "type": "quantitative", "scale": {"domain": [0, 6], "nice": false, "zero": false}, "axis": {"values": [0, 1, 2, 3, 4, 5, 6], "format": "d", "title": "Vp and Vs (Km/s)"}},
                "y": {"field": "d", "type": "quantitative", "scale": {"domain": [4.026, 4.208], "reverse": true, "nice": false, "zero": false}, "axis": {"values": [4.04, 4.06, 4.08, 4.1, 4.12, 4.14, 4.16, 4.18, 4.2], "format": ".2~f", "title": null}},
                "color": {"field": "s", "type": "nominal", "scale": {"domain": ["p", "s", "l"], "range": ["#000080", "#1e90ff", "#ff8000"]}, "legend": {"labelExpr": "datum.label == 'p' ? 'Vₚ modelled' : datum.label == 's' ? 'Vₛ modelled' : 'Vₚ and Vₛ log'"}},
                "order": {"field": "s", "type": "nominal"}
              }
            },
            {
              "data": {"name": "bottomLines"},
              "mark": {"type": "rule", "color": "#808080", "strokeWidth": 3.5, "strokeDash": [10, 6]},
              "encoding": {"y": {"field": "d", "type": "quantitative"}}
            },
            {
              "data": {"name": "bottomNames"},
              "mark": {"type": "text", "align": "left", "baseline": "middle", "font": "Liberation Sans", "fontSize": 20, "color": "black"},
              "encoding": {"x": {"datum": 0.03}, "y": {"field": "d", "type": "quantitative"}, "text": {"field": "name"}}
            }
          ]
        },
        {
          "data": {"name": "bottomLines"},
          "mark": {"type": "point", "opacity": 0},
          "encoding": {
            "x": {"datum": 0, "type": "quantitative", "scale": {"domain": [0, 6], "nice": false, "zero": false}, "axis": {"orient": "top", "labels": false, "title": null, "values": [0, 1, 2, 3, 4, 5, 6]}},
            "y": {"field": "d", "type": "quantitative", "scale": {"domain": [4.026, 4.208], "reverse": true, "nice": false, "zero": false}, "axis": {"orient": "right", "labels": false, "title": null, "values": [4.04, 4.06, 4.08, 4.1, 4.12, 4.14, 4.16, 4.18, 4.2]}}
          }
        }
      ]
    }
  ],
  "spacing": 50,
  "bounds": "flush",
  "resolve": {"scale": {"color": "independent"}, "legend": {"color": "independent"}}
}
